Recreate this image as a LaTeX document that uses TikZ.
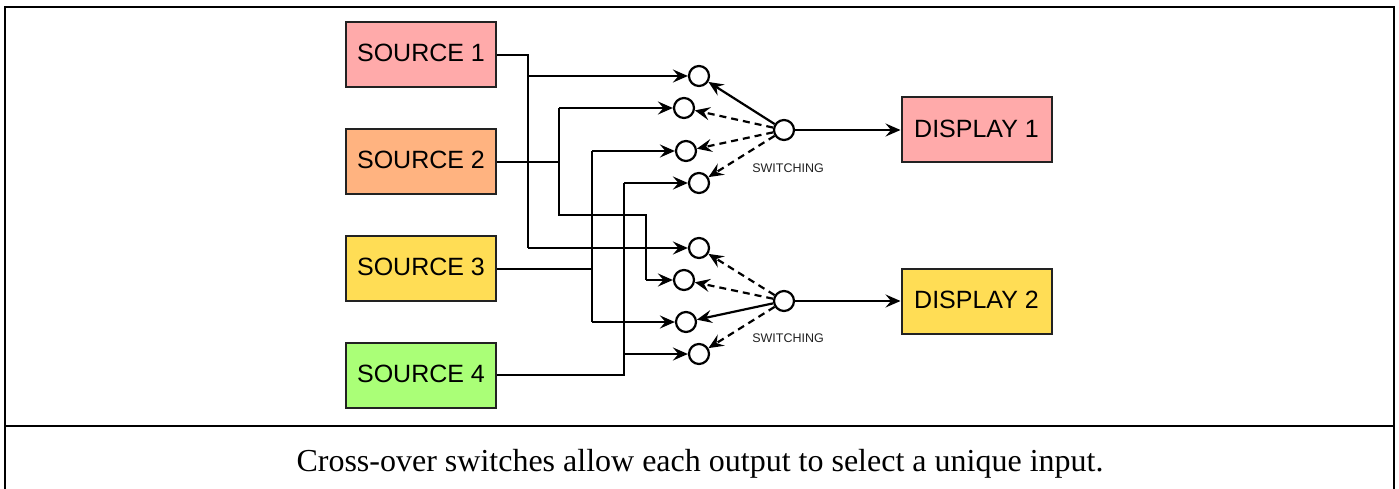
\documentclass[tikz,border=0pt]{standalone}
\usepackage{fontspec}
\setmainfont{Liberation Serif}
\setsansfont{Liberation Sans}
\usetikzlibrary{arrows.meta}

\definecolor{pinkbox}{HTML}{FFAAAA}
\definecolor{orangebox}{HTML}{FFB380}
\definecolor{yellowbox}{HTML}{FFDD55}
\definecolor{greenbox}{HTML}{AAFF77}
\definecolor{edge}{HTML}{222222}

% box titles sit slightly above the box centre
\newcommand\boxtitle[1]{\raisebox{2.5pt}{#1}}

\tikzset{
  unitbox/.style={draw=edge, line width=2pt, minimum width=150pt, minimum height=65pt,
    inner sep=0pt, font=\sffamily\fontsize{25}{30}\selectfont},
  port/.style={circle, draw=black, line width=2.2pt, fill=white, minimum size=20pt, inner sep=0pt},
  wire/.style={line width=2.2pt, draw=black},
  tip/.style={-{Stealth[length=15pt, width=13pt, inset=5.5pt]}},
  swdash/.style={dash pattern=on 7pt off 5pt},
  swlabel/.style={font=\sffamily\fontsize{12.5}{14}\selectfont, text=edge},
  frame/.style={line width=2pt, draw=black}
}

\begin{document}
\begin{tikzpicture}[x=1pt, y=-1pt]
  % page and outer frame
  \useasboundingbox (0,0) rectangle (1399,489);
  \fill[white] (0,0) rectangle (1399,489);
  \draw[frame] (5,489) -- (5,7) -- (1394,7) -- (1394,489);
  \draw[frame] (5,426) -- (1394,426);

  % sources and displays
  \node[unitbox, fill=pinkbox]   (s1) at (421,54.5)  {\boxtitle{SOURCE 1}};
  \node[unitbox, fill=orangebox] (s2) at (421,161.5) {\boxtitle{SOURCE 2}};
  \node[unitbox, fill=yellowbox] (s3) at (421,268.5) {\boxtitle{SOURCE 3}};
  \node[unitbox, fill=greenbox]  (s4) at (421,375.5) {\boxtitle{SOURCE 4}};
  \node[unitbox, fill=pinkbox]   (d1) at (976.5,130) {\boxtitle{DISPLAY 1}};
  \node[unitbox, fill=yellowbox] (d2) at (976.5,301) {\boxtitle{DISPLAY 2}};

  % switch input ports
  \node[port] (c1) at (699,76)  {};
  \node[port] (c2) at (684,108) {};
  \node[port] (c3) at (686,151) {};
  \node[port] (c4) at (699,183) {};
  \node[port] (c5) at (699,248) {};
  \node[port] (c6) at (684,280) {};
  \node[port] (c7) at (686,322) {};
  \node[port] (c8) at (699,354) {};

  % switch wipers
  \node[port] (sw1) at (784,130) {};
  \node[port] (sw2) at (784,301) {};
  \node[swlabel] (l1) at (788,168) {SWITCHING};
  \node[swlabel] (l2) at (788,338) {SWITCHING};

  % wiring junctions
  \coordinate (a1) at (528,55);
  \coordinate (a2) at (528,76);
  \coordinate (a3) at (528,248);
  \coordinate (b1) at (559,162);
  \coordinate (b2) at (559,108);
  \coordinate (b3) at (559,215);
  \coordinate (b4) at (646,215);
  \coordinate (b5) at (646,280);
  \coordinate (e1) at (592,269);
  \coordinate (e2) at (592,151);
  \coordinate (e3) at (592,322);
  \coordinate (f1) at (624,375);
  \coordinate (f2) at (624,183);
  \coordinate (f3) at (624,354);

  % source 1
  \draw[wire] (s1.east |- a1) -- (a1) -- (a3);
  \draw[wire, tip] (a2) -- (c1);
  \draw[wire, tip] (a3) -- (c5);
  % source 2
  \draw[wire] (s2.east |- b1) -- (b1);
  \draw[wire] (b2) -- (b3) -- (b4) -- (b5);
  \draw[wire, tip] (b2) -- (c2);
  \draw[wire, tip] (b5) -- (c6);
  % source 3
  \draw[wire] (s3.east |- e1) -- (e1);
  \draw[wire] (e2) -- (e3);
  \draw[wire, tip] (e2) -- (c3);
  \draw[wire, tip] (e3) -- (c7);
  % source 4
  \draw[wire] (s4.east |- f1) -- (f1) -- (f2);
  \draw[wire, tip] (f2) -- (c4);
  \draw[wire, tip] (f3) -- (c8);

  % switch 1 selections
  \draw[wire, tip] (sw1) -- (c1);
  \draw[wire, tip, swdash] (sw1) -- (c2);
  \draw[wire, tip, swdash] (sw1) -- (c3);
  \draw[wire, tip, swdash] (sw1) -- (c4);
  % switch 2 selections
  \draw[wire, tip, swdash] (sw2) -- (c5);
  \draw[wire, tip, swdash] (sw2) -- (c6);
  \draw[wire, tip] (sw2) -- (c7);
  \draw[wire, tip, swdash] (sw2) -- (c8);

  % outputs
  \draw[wire, tip] (sw1) -- (d1);
  \draw[wire, tip] (sw2) -- (d2);

  % caption
  \node[font=\fontsize{32}{38}\selectfont] (cap) at (700,464)
    {Cross-over switches allow each output to select a unique input.};
\end{tikzpicture}
\end{document}
